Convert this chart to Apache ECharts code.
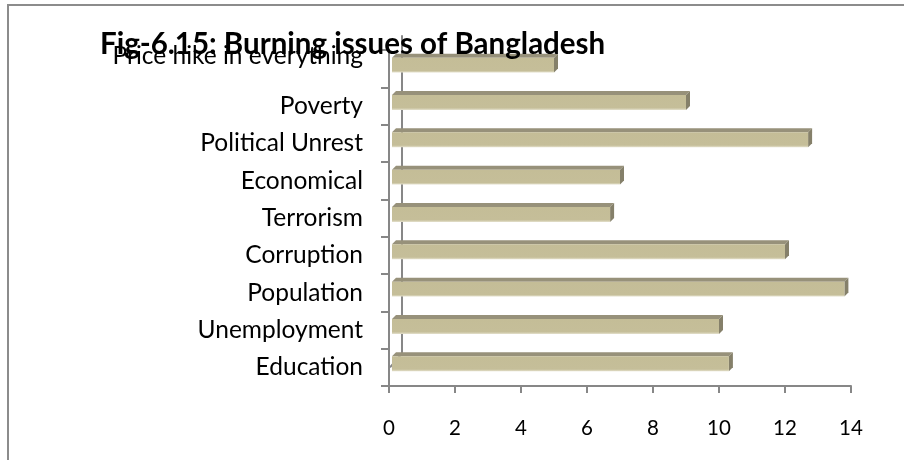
<!DOCTYPE html>
<html>
<head>
<meta charset="utf-8">
<script src="https://cdn.jsdelivr.net/npm/echarts@6/dist/echarts.min.js"></script>
<style>
  html, body { margin: 0; padding: 0; background: #ffffff; }
  #chart { width: 904px; height: 460px; }
</style>
</head>
<body>
<div id="chart"></div>
<script>
// Burning issues of Bangladesh, listed bottom to top
const categories = [
  'Education',
  'Unemployment',
  'Population',
  'Corruption',
  'Terrorism',
  'Economical',
  'Political Unrest',
  'Poverty',
  'Price hike in everything'
];
const values = [10.3, 10, 13.8, 12, 6.7, 7, 12.7, 9, 5];
const xTicks = [0, 2, 4, 6, 8, 10, 12, 14];

const titleText = 'Fig-6.15: Burning issues of Bangladesh';
const FONT = 'Lato, "Open Sans", sans-serif';
const AXIS_GRAY = '#878787';

const chart = echarts.init(document.getElementById('chart'), null, { renderer: 'canvas' });

// Draws a bar with a shallow 3-D look: front face, top face and right end face
function renderBar(params, api) {
  const cat = api.value(0);
  const v = api.value(1);
  const base = api.coord([0, cat]);
  const end = api.coord([v, cat]);
  const band = api.size([0, 1])[1];
  const h = band * 0.4;
  const d = 4;
  const cy = base[1] - band * 0.094;
  const top = cy - h / 2;
  const bottom = cy + h / 2;
  const x0 = base[0] + 3;
  const x1 = end[0];
  return {
    type: 'group',
    children: [
      {
        type: 'polygon',
        shape: { points: [[x0, top], [x0 + d, top - d], [x1 + d, top - d], [x1, top]] },
        style: { fill: '#97917a' }
      },
      {
        type: 'polygon',
        shape: { points: [[x1, top], [x1 + d, top - d], [x1 + d, bottom - d], [x1, bottom]] },
        style: { fill: '#85806a' }
      },
      {
        type: 'rect',
        shape: { x: x0, y: top, width: x1 - x0, height: h },
        style: {
          fill: new echarts.graphic.LinearGradient(0, 0, 0, 1, [
            { offset: 0, color: '#c4bd97' },
            { offset: 0.86, color: '#c5be99' },
            { offset: 1, color: '#e4e0cc' }
          ])
        }
      }
    ]
  };
}

const data = values.map((v, i) => [i, v]);

chart.setOption({
  animation: false,
  backgroundColor: '#ffffff',
  title: {
    text: titleText,
    left: 100,
    top: 29,
    padding: 0,
    textStyle: { fontFamily: FONT, fontWeight: 'bold', fontSize: 29.5, color: '#000000' },
    z: 10
  },
  grid: { left: 389, right: 53, top: 50, bottom: 74, containLabel: false },
  xAxis: {
    type: 'value',
    min: xTicks[0],
    max: xTicks[xTicks.length - 1],
    interval: xTicks[1] - xTicks[0],
    axisLine: { show: true, lineStyle: { color: AXIS_GRAY, width: 2 } },
    axisTick: { show: true, length: 7, lineStyle: { color: AXIS_GRAY, width: 2 } },
    splitLine: { show: false },
    axisLabel: { margin: 32, fontFamily: FONT, fontSize: 20.5, color: '#000000' }
  },
  yAxis: {
    type: 'category',
    data: categories,
    boundaryGap: true,
    axisLine: { show: true, lineStyle: { color: AXIS_GRAY, width: 2 } },
    axisTick: { show: true, length: 8, interval: 0, lineStyle: { color: AXIS_GRAY, width: 2 } },
    axisLabel: {
      interval: 0,
      margin: 26,
      fontFamily: FONT,
      fontSize: 24.5,
      color: '#000000',
      formatter: (val) => val === categories[categories.length - 1] ? '{up|' + val + '}' : val,
      rich: {
        up: { fontFamily: FONT, fontSize: 24.5, color: '#000000', padding: [0, 0, 26, 0] }
      }
    }
  },
  series: [{
    type: 'custom',
    renderItem: renderBar,
    encode: { x: 1, y: 0 },
    data: data,
    z: 5
  }]
});

// Back wall edge of the 3-D plot area and the outer chart frame
const origin = chart.convertToPixel({ gridIndex: 0 }, [0, 0]);
const bottomY = chart.convertToPixel({ gridIndex: 0 }, [0, -0.5])[1];
const topY = chart.convertToPixel({ gridIndex: 0 }, [0, categories.length - 0.5])[1];
const wallX = origin[0] + 13;
chart.setOption({
  graphic: [
    {
      type: 'polyline',
      z: 0,
      shape: { points: [[wallX, topY + 4], [wallX, bottomY - 14], [origin[0] + 1, bottomY]] },
      style: { stroke: AXIS_GRAY, lineWidth: 2, fill: null }
    },
    {
      type: 'rect',
      z: 0,
      shape: { x: 8, y: 5, width: 1000, height: 1000 },
      style: { stroke: '#8c8c8c', lineWidth: 2, fill: null }
    }
  ]
});
</script>
</body>
</html>
